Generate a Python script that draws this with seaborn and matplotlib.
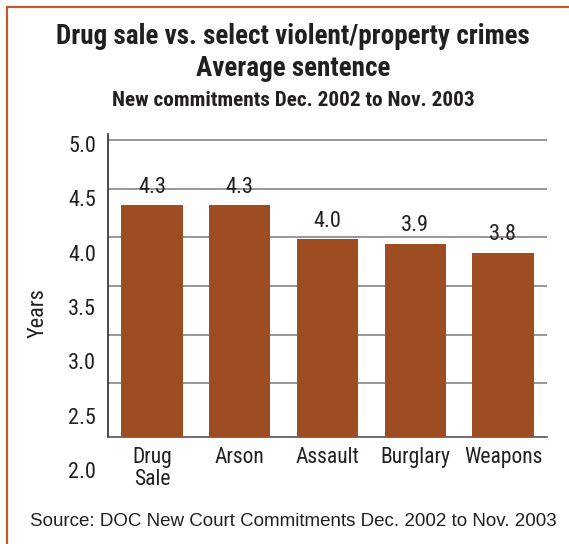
import matplotlib
matplotlib.use("Agg")
import matplotlib.pyplot as plt
from matplotlib.lines import Line2D
import seaborn as sns
import pandas as pd

# Average sentence (years) by offense, new commitments Dec. 2002 - Nov. 2003
categories = ["Drug\nSale", "Arson", "Assault", "Burglary", "Weapons"]
avg_years = [4.33, 4.33, 3.98, 3.93, 3.84]
tick_values = [2.0, 2.5, 3.0, 3.5, 4.0, 4.5, 5.0]
grid_values = [2.5, 3.0, 3.5, 4.0, 4.5, 5.0]

title_lines = ["Drug sale vs. select violent/property crimes", "Average sentence"]
subtitle = "New commitments Dec. 2002 to Nov. 2003"
source = "Source: DOC New Court Commitments Dec. 2002 to Nov. 2003"

BAR = "#9E4C22"
FRAME = "#C25B2A"
INK = "#231F20"
NARROW = ["Roboto Condensed", "Archivo Narrow", "DejaVu Sans"]

sns.set_style("white")
plt.rcParams["font.family"] = NARROW

W, H = 569, 544
fig = plt.figure(figsize=(W / 100, H / 100), dpi=100)


def px_axes(left, top, right, bottom):
    return fig.add_axes([left / W, 1 - bottom / H, (right - left) / W, (bottom - top) / H])


df = pd.DataFrame({"offense": categories, "years": avg_years})

ax = px_axes(108, 134, 547, 437)
sns.barplot(data=df, x="offense", y="years", color=BAR, width=0.7,
            saturation=1, linewidth=0, ax=ax, zorder=3)
ax.set_ylim(1.947, 5.062)
ax.set_yticks(grid_values)
ax.set_yticklabels([])
ax.tick_params(axis="y", length=0)
ax.grid(axis="y", color="#8f8f8f", linewidth=1.3, zorder=0)
ax.set_axisbelow(True)
ax.tick_params(axis="x", length=0, pad=7, labelsize=15.5, colors=INK)
ax.set_xlabel("")
ax.set_ylabel("")
for side in ("top", "right"):
    ax.spines[side].set_visible(False)
ax.spines["left"].set_color("#2a2a2a")
ax.spines["left"].set_linewidth(1.2)
ax.spines["bottom"].set_color("#555555")
ax.spines["bottom"].set_linewidth(1.2)
for lbl in ax.get_xticklabels():
    lbl.set_linespacing(1.05)

ax.bar_label(ax.containers[0], labels=[f"{v:.1f}" for v in avg_years],
             padding=5.5, fontsize=16, color=INK)

# value scale printed beside the plot
lab = px_axes(100, 144, 101, 470)
lab.set_ylim(2.0, 5.0)
lab.set_yticks(tick_values)
lab.set_yticklabels([f"{v:.1f}" for v in tick_values])
lab.tick_params(axis="y", length=0, pad=3, labelsize=16, colors=INK)
lab.set_xticks([])
lab.patch.set_visible(False)
for s in lab.spines.values():
    s.set_visible(False)

fig.text(38 / W, 1 - 313 / H, "Years", rotation=90, ha="center", va="center",
         fontsize=16, color=INK)

cx = 293 / W
fig.text(cx, 1 - 37 / H, title_lines[0], ha="center", va="center",
         fontsize=19.5, fontweight="bold", color=INK)
fig.text(cx, 1 - 69 / H, title_lines[1], ha="center", va="center",
         fontsize=19.5, fontweight="bold", color=INK)
fig.text(cx, 1 - 100 / H, subtitle, ha="center", va="center",
         fontsize=15.3, fontweight="bold", color=INK)

fig.text(30 / W, 1 - 521 / H, source, ha="left", va="center",
         fontsize=13.5, color=INK, family=["Liberation Sans", "DejaVu Sans"])

# frame around the graphic (open on the right and bottom)
fig.add_artist(Line2D([6.7 / W, 1.0], [1 - 6.5 / H, 1 - 6.5 / H],
                      transform=fig.transFigure, color=FRAME, linewidth=1.6))
fig.add_artist(Line2D([6.7 / W, 6.7 / W], [0.0, 1 - 6.5 / H],
                      transform=fig.transFigure, color=FRAME, linewidth=1.6))

fig.savefig("out.png", dpi=100)
